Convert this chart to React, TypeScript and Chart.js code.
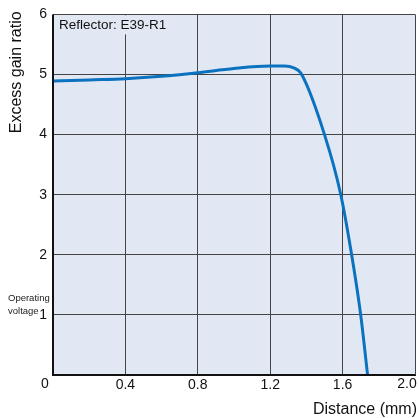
import React, { useEffect, useRef } from "react";
import { Chart, registerables } from "chart.js";
Chart.register(...registerables);

const distance = [0, 0.2, 0.4, 0.6, 0.8, 1.0, 1.2, 1.28, 1.33, 1.37, 1.5, 1.59, 1.65, 1.7, 1.738];
const gain = [4.89, 4.91, 4.93, 4.97, 5.03, 5.1, 5.14, 5.14, 5.11, 5.02, 4.0, 3.0, 2.0, 1.0, 0];
const xTicks = [0, 0.4, 0.8, 1.2, 1.6, 2.0];
const yTicks = [1, 2, 3, 4, 5, 6];
const annotation = "Reflector: E39-R1";
const xTitle = "Distance (mm)";
const yTitle = "Excess gain ratio";
const opLabel = ["Operating", "voltage"];

const FONT = "'Liberation Sans', Arial, sans-serif";
const BG = "#e2e8f3";

export default function App() {
  const ref = useRef<HTMLCanvasElement | null>(null);
  useEffect(() => {
    document.body.style.margin = "0";
    const textPlugin = {
      id: "texts",
      beforeDraw(chart: any) {
        const { ctx, chartArea } = chart;
        ctx.save();
        ctx.fillStyle = BG;
        ctx.fillRect(chartArea.left, chartArea.top, chartArea.right - chartArea.left, chartArea.bottom - chartArea.top);
        ctx.restore();
      },
      afterDraw(chart: any) {
        const { ctx, chartArea, scales } = chart;
        const xs = scales.x;
        const ys = scales.y;
        ctx.save();
        // annotation box + text
        ctx.font = `13.5px ${FONT}`;
        const w = ctx.measureText(annotation).width;
        ctx.fillStyle = BG;
        ctx.fillRect(chartArea.left + 1, chartArea.top + 1, w + 12, 19);
        ctx.fillStyle = "#111";
        ctx.textAlign = "left";
        ctx.textBaseline = "middle";
        ctx.fillText(annotation, chartArea.left + 6, chartArea.top + 11);
        // y title
        ctx.save();
        ctx.translate(17, chartArea.top - 3);
        ctx.rotate(-Math.PI / 2);
        ctx.font = `16px ${FONT}`;
        ctx.textAlign = "right";
        ctx.textBaseline = "middle";
        ctx.fillText(yTitle, 0, 0);
        ctx.restore();
        // x title
        ctx.font = `16px ${FONT}`;
        ctx.textAlign = "right";
        ctx.textBaseline = "middle";
        ctx.fillText(xTitle, 417, 410);
        // end x labels
        ctx.font = `14px ${FONT}`;
        ctx.textAlign = "center";
        ctx.fillText(String(xTicks[0]), xs.getPixelForValue(xTicks[0]) - 8, 384);
        ctx.fillText(xTicks[xTicks.length - 1].toFixed(1), xs.getPixelForValue(xTicks[xTicks.length - 1]) - 8, 384);
        // operating voltage
        ctx.font = `9.5px ${FONT}`;
        ctx.textAlign = "left";
        ctx.fillStyle = "#222";
        const y1 = ys.getPixelForValue(1);
        ctx.fillText(opLabel[0], 8, y1 - 17);
        ctx.fillText(opLabel[1], 8, y1 - 4);
        // axes borders
        ctx.strokeStyle = "#111";
        ctx.lineWidth = 2;
        ctx.beginPath();
        ctx.moveTo(chartArea.left, chartArea.top);
        ctx.lineTo(chartArea.left, chartArea.bottom);
        ctx.lineTo(chartArea.right, chartArea.bottom);
        ctx.stroke();
        ctx.restore();
      },
    };
    const chart = new Chart(ref.current as HTMLCanvasElement, {
      type: "line",
      data: {
        datasets: [
          {
            data: distance.map((d, i) => ({ x: d, y: gain[i] })),
            borderColor: "#0a72bf",
            borderWidth: 3,
            pointRadius: 0,
            cubicInterpolationMode: "monotone",
            fill: false,
          },
        ],
      },
      options: {
        animation: false,
        responsive: false,
        layout: { padding: { top: 12, right: 4, left: 0, bottom: 0 } },
        plugins: { legend: { display: false }, tooltip: { enabled: false } },
        scales: {
          x: {
            type: "linear",
            min: 0,
            max: 2.0,
            afterBuildTicks: (s: any) => {
              s.ticks = xTicks.map((v) => ({ value: v }));
            },
            afterFit: (s: any) => {
              s.height = 43;
            },
            grid: { color: "#444", lineWidth: 1, drawTicks: false },
            border: { display: true, color: "#111", width: 1 },
            ticks: {
              color: "#111",
              font: { family: FONT, size: 14 },
              padding: 2,
              maxRotation: 0,
              autoSkip: false,
              callback: (v: any) => (v === xTicks[0] || v === xTicks[xTicks.length - 1] ? "" : Number(v).toFixed(1)),
            },
          },
          y: {
            type: "linear",
            min: 0,
            max: 6,
            afterBuildTicks: (s: any) => {
              s.ticks = [0, ...yTicks].map((v) => ({ value: v }));
            },
            afterFit: (s: any) => {
              s.width = 53;
            },
            grid: { color: "#444", lineWidth: 1, drawTicks: false },
            border: { display: true, color: "#111", width: 1 },
            ticks: {
              color: "#111",
              font: { family: FONT, size: 14 },
              padding: 6,
              callback: (v: any) => (v === 0 ? "" : String(v)),
            },
          },
        },
      },
      plugins: [textPlugin],
    } as any);
    return () => chart.destroy();
  }, []);
  return (
    <div style={{ position: "absolute", left: 0, top: 0, width: 419, height: 418 }}>
      <canvas ref={ref} width={419} height={418} />
    </div>
  );
}
